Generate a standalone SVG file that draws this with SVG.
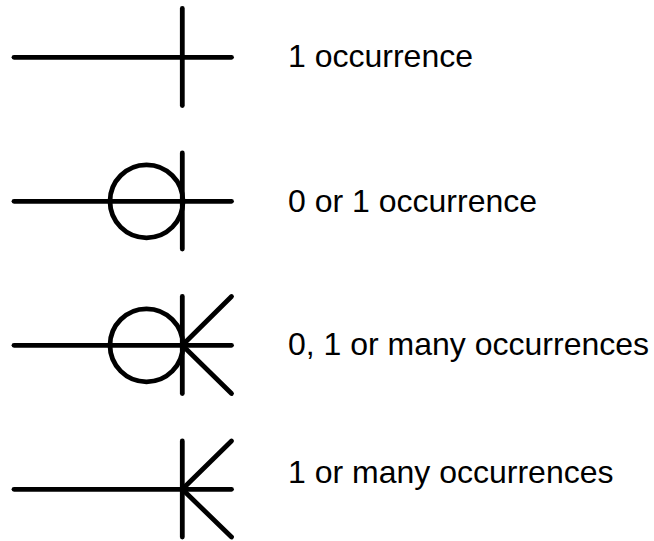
<svg xmlns="http://www.w3.org/2000/svg" width="654" height="541" viewBox="0 0 654 541">
  <style>
    .ln { stroke: #000; stroke-width: 4.8; stroke-linecap: round; fill: none; }
    .lbl { font-family: "Liberation Sans", Arial, sans-serif; font-size: 32px; fill: #000; }
  </style>
  <rect width="654" height="541" fill="#fff"/>
  <g id="one">
    <line class="ln" x1="14" y1="57.3" x2="231.5" y2="57.3"/>
    <line class="ln" x1="182.3" y1="8.5" x2="182.3" y2="105.5"/>
    <text class="lbl" x="288" y="67">1 occurrence</text>
  </g>
  <g id="zero-or-one">
    <line class="ln" x1="14" y1="201.3" x2="231.5" y2="201.3"/>
    <circle class="ln" cx="146.5" cy="201.3" r="36.5"/>
    <line class="ln" x1="182.3" y1="153" x2="182.3" y2="249"/>
    <text class="lbl" x="288" y="212">0 or 1 occurrence</text>
  </g>
  <g id="zero-one-many">
    <line class="ln" x1="14" y1="345.3" x2="231.5" y2="345.3"/>
    <circle class="ln" cx="146.5" cy="345.3" r="36.5"/>
    <line class="ln" x1="182.3" y1="296.5" x2="182.3" y2="393.5"/>
    <line class="ln" x1="182.3" y1="345.3" x2="231.5" y2="296.5"/>
    <line class="ln" x1="182.3" y1="345.3" x2="231.5" y2="393.5"/>
    <text class="lbl" x="288" y="355">0, 1 or many occurrences</text>
  </g>
  <g id="one-many">
    <line class="ln" x1="14" y1="489.3" x2="231.5" y2="489.3"/>
    <line class="ln" x1="182.3" y1="441" x2="182.3" y2="537"/>
    <line class="ln" x1="182.3" y1="489.3" x2="231.5" y2="441"/>
    <line class="ln" x1="182.3" y1="489.3" x2="231.5" y2="537"/>
    <text class="lbl" x="288" y="483">1 or many occurrences</text>
  </g>
</svg>
